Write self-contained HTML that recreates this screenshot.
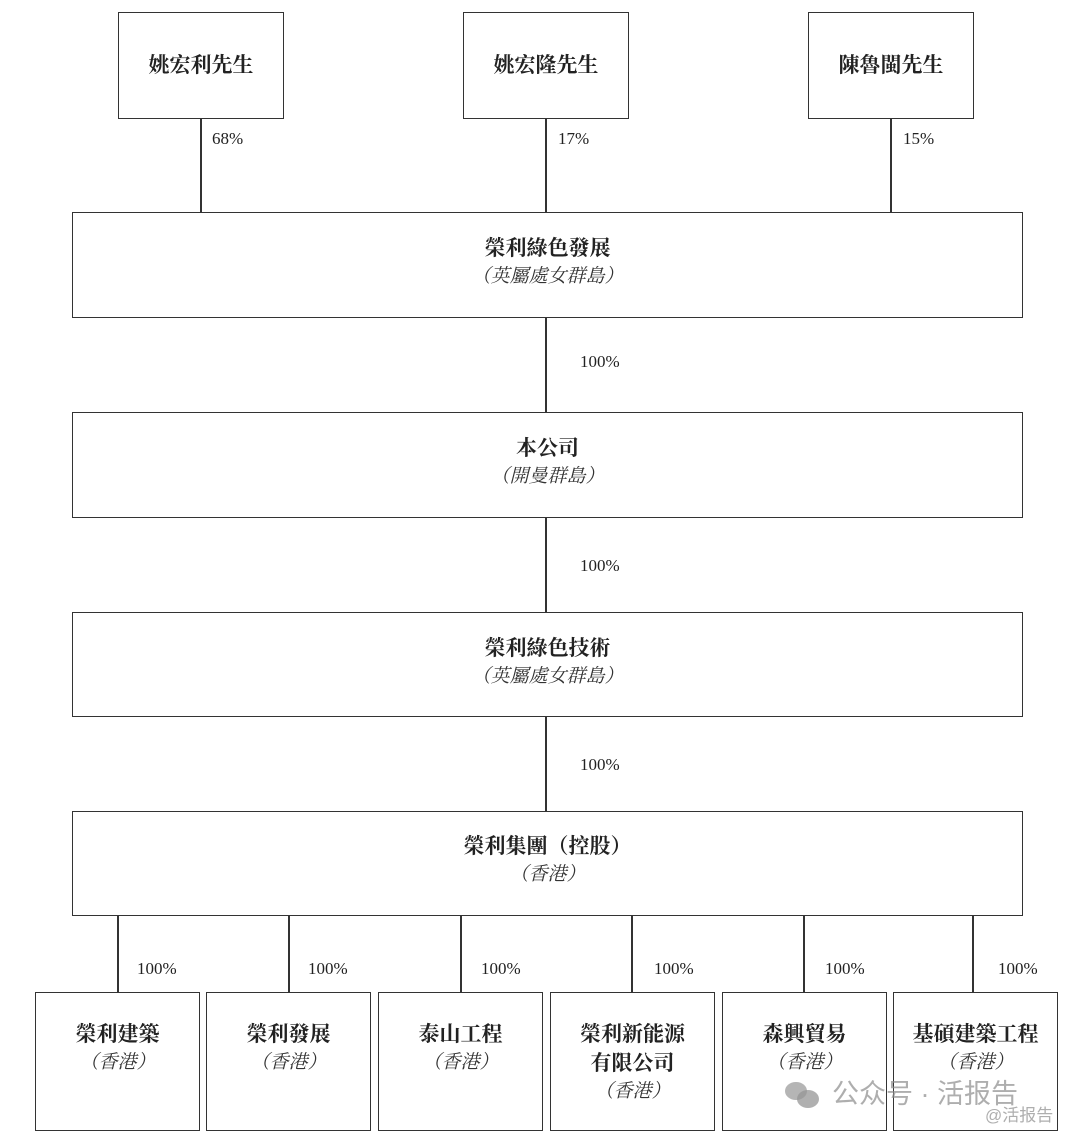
<!DOCTYPE html>
<html><head><meta charset="utf-8"><style>
body{margin:0;width:1080px;height:1140px;background:#fff;position:relative;overflow:hidden;font-family:"Liberation Serif","Noto Serif CJK SC",serif;color:#222}
.b{position:absolute;border:1.5px solid #333;box-sizing:border-box;background:#fff}
.l{position:absolute;background:#333}
.t{position:absolute;left:0;right:0;text-align:center;font-weight:bold;font-size:21px;line-height:24px}
.i{position:absolute;left:0;right:0;text-align:center;font-style:italic;font-size:19px;line-height:24px;color:#333}
.p{position:absolute;font-size:17px;line-height:20px}
.w{position:absolute;color:rgba(140,140,140,.7);font-family:"Liberation Sans","Noto Sans CJK SC",sans-serif}
</style></head><body>
<div class="l" style="left:200px;top:118px;width:1.5px;height:94px"></div>
<div class="l" style="left:545px;top:118px;width:1.5px;height:94px"></div>
<div class="l" style="left:890px;top:118px;width:1.5px;height:94px"></div>
<div class="l" style="left:545px;top:317px;width:1.5px;height:95px"></div>
<div class="l" style="left:545px;top:517px;width:1.5px;height:95px"></div>
<div class="l" style="left:545px;top:716px;width:1.5px;height:95px"></div>
<div class="l" style="left:117px;top:915px;width:1.5px;height:77px"></div>
<div class="l" style="left:288px;top:915px;width:1.5px;height:77px"></div>
<div class="l" style="left:460px;top:915px;width:1.5px;height:77px"></div>
<div class="l" style="left:631px;top:915px;width:1.5px;height:77px"></div>
<div class="l" style="left:803px;top:915px;width:1.5px;height:77px"></div>
<div class="l" style="left:972px;top:915px;width:1.5px;height:77px"></div>

<div class="b" style="left:118px;top:12px;width:166px;height:107px"><div class="t" style="top:40px">姚宏利先生</div></div>
<div class="b" style="left:463px;top:12px;width:166px;height:107px"><div class="t" style="top:40px">姚宏隆先生</div></div>
<div class="b" style="left:808px;top:12px;width:166px;height:107px"><div class="t" style="top:40px">陳魯閩先生</div></div>
<div class="p" style="left:212px;top:129px">68%</div>
<div class="p" style="left:558px;top:129px">17%</div>
<div class="p" style="left:903px;top:129px">15%</div>

<div class="b" style="left:72px;top:212px;width:951px;height:106px"><div class="t" style="top:23px">榮利綠色發展</div><div class="i" style="top:52px">（英屬處女群島）</div></div>
<div class="p" style="left:580px;top:352px">100%</div>
<div class="b" style="left:72px;top:412px;width:951px;height:106px"><div class="t" style="top:23px">本公司</div><div class="i" style="top:52px">（開曼群島）</div></div>
<div class="p" style="left:580px;top:556px">100%</div>
<div class="b" style="left:72px;top:612px;width:951px;height:105px"><div class="t" style="top:23px">榮利綠色技術</div><div class="i" style="top:52px">（英屬處女群島）</div></div>
<div class="p" style="left:580px;top:755px">100%</div>
<div class="b" style="left:72px;top:811px;width:951px;height:105px"><div class="t" style="top:22px">榮利集團（控股）</div><div class="i" style="top:51px">（香港）</div></div>

<div class="p" style="left:137px;top:959px">100%</div>
<div class="p" style="left:308px;top:959px">100%</div>
<div class="p" style="left:481px;top:959px">100%</div>
<div class="p" style="left:654px;top:959px">100%</div>
<div class="p" style="left:825px;top:959px">100%</div>
<div class="p" style="left:998px;top:959px">100%</div>

<div class="b" style="left:35px;top:992px;width:165px;height:139px"><div class="t" style="top:29px">榮利建築</div><div class="i" style="top:58px">（香港）</div></div>
<div class="b" style="left:206px;top:992px;width:165px;height:139px"><div class="t" style="top:29px">榮利發展</div><div class="i" style="top:58px">（香港）</div></div>
<div class="b" style="left:378px;top:992px;width:165px;height:139px"><div class="t" style="top:29px">泰山工程</div><div class="i" style="top:58px">（香港）</div></div>
<div class="b" style="left:550px;top:992px;width:165px;height:139px"><div class="t" style="top:29px">榮利新能源</div><div class="t" style="top:58px">有限公司</div><div class="i" style="top:87px">（香港）</div></div>
<div class="b" style="left:722px;top:992px;width:165px;height:139px"><div class="t" style="top:29px">森興貿易</div><div class="i" style="top:58px">（香港）</div></div>
<div class="b" style="left:893px;top:992px;width:165px;height:139px"><div class="t" style="top:29px">基碩建築工程</div><div class="i" style="top:58px">（香港）</div></div>

<div class="w" style="left:785px;top:1080px;width:40px;height:30px;"><div style="position:absolute;left:0;top:2px;width:22px;height:18px;border-radius:50%;background:rgba(150,150,150,.7)"></div><div style="position:absolute;left:12px;top:10px;width:22px;height:18px;border-radius:50%;background:rgba(150,150,150,.75)"></div></div>
<div class="w" style="left:832px;top:1078px;font-size:27px;line-height:32px">公众号 · 活报告</div>
<div class="w" style="left:985px;top:1106px;font-size:17px;line-height:20px">@活报告</div>
</body></html>
